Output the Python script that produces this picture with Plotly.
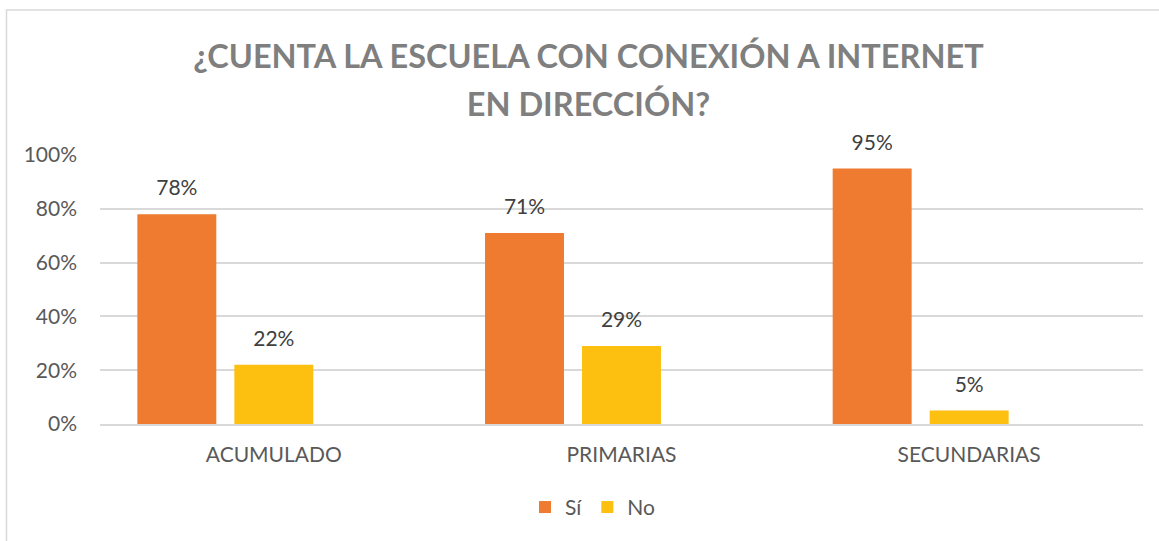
import plotly.graph_objects as go

categories = ["ACUMULADO", "PRIMARIAS", "SECUNDARIAS"]
si_values = [0.78, 0.71, 0.95]
no_values = [0.22, 0.29, 0.05]
blank_values = [None, None, None]
series_names = ["Sí", "No", ""]
y_tick_values = [0, 0.2, 0.4, 0.6, 0.8, 1.0]
y_tick_labels = ["0%", "20%", "40%", "60%", "80%", "100%"]
title_lines = ["¿CUENTA LA ESCUELA CON CONEXIÓN A INTERNET", "EN DIRECCIÓN?"]

FONT = "Lato"
colors = ["#EE7B30", "#FDC010", "#A5A5A5"]
series_values = [si_values, no_values, blank_values]

fig = go.Figure()
for i, (name, vals) in enumerate(zip(series_names, series_values)):
    fig.add_trace(go.Bar(
        x=categories, y=vals, name=name,
        marker=dict(color=colors[i], line=dict(width=0)),
        offsetgroup=str(i),
        showlegend=(name != ""),
        hoverinfo="skip",
    ))
for i, (name, vals) in enumerate(zip(series_names, series_values)):
    fig.add_trace(go.Scatter(
        x=categories, y=vals,
        mode="markers+text",
        text=[("" if v is None else f"{round(v * 100)}%") for v in vals],
        textposition="top center",
        textfont=dict(family=FONT, size=21, color="#404040"),
        marker=dict(size=20, opacity=0),
        offsetgroup=str(i),
        showlegend=False,
        hoverinfo="skip",
        cliponaxis=False,
    ))

title_html = "<br>".join(f"<span style='font-size:32.5px'>{t}</span>" for t in title_lines)

fig.update_layout(
    width=1159, height=541,
    margin=dict(l=100, r=16, t=155, b=117),
    paper_bgcolor="white", plot_bgcolor="white",
    barmode="group", bargap=0.163, bargroupgap=0.186,
    scattermode="group", scattergap=0.163,
    title=dict(text=title_html, x=588.5 / 1159, xanchor="center", xref="container",
               y=1 - 68 / 541, yanchor="top", yref="container",
               font=dict(family=FONT, size=37, color="#7F7F7F", weight="bold")),
    font=dict(family=FONT, color="#595959"),
    legend=dict(orientation="h", x=0.4727, xanchor="center", y=-0.31, yanchor="middle",
                font=dict(family=FONT, size=21, color="#595959"), traceorder="normal",
                itemwidth=30),
    showlegend=True,
    shapes=[dict(type="rect", xref="paper", yref="paper",
                 x0=(6.5 - 100) / 1043, x1=1.2, y0=(424 - 10) / 269, y1=-0.6,
                 line=dict(color="#D9D9D9", width=1.5), fillcolor="rgba(0,0,0,0)", layer="below")],
)
fig.update_yaxes(range=[0, 1], tickvals=y_tick_values, ticktext=y_tick_labels,
                 showgrid=True, gridcolor="#D9D9D9", gridwidth=1.5,
                 zeroline=False, showline=False, ticks="", ticklabelstandoff=22,
                 tickfont=dict(family=FONT, size=21, color="#595959"))
fig.update_xaxes(showgrid=False, showline=True, linecolor="#D9D9D9", linewidth=1.5,
                 ticks="", ticklabelstandoff=11,
                 tickfont=dict(family=FONT, size=21, color="#595959"))

fig.write_html("out.html", config={"displayModeBar": False},
               post_script="document.body.style.margin='0';document.body.style.padding='0';")
